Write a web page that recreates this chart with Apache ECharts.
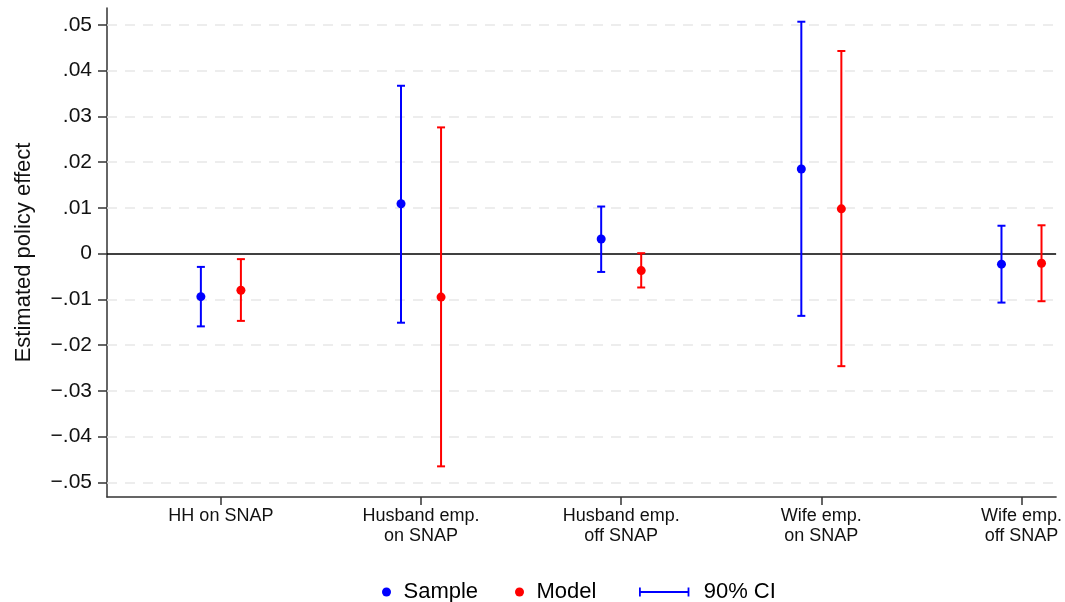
<!DOCTYPE html>
<html>
<head>
<meta charset="utf-8">
<script src="https://cdn.jsdelivr.net/npm/echarts@6/dist/echarts.min.js"></script>
<style>
  html, body { margin: 0; padding: 0; background: #fff; }
  #chart { width: 1065px; height: 602px; }
</style>
</head>
<body>
<div id="chart"></div>
<script>
// outcomes on the x axis
const categories = ['HH on SNAP', 'Husband emp.\non SNAP', 'Husband emp.\noff SNAP', 'Wife emp.\non SNAP', 'Wife emp.\noff SNAP']

// sample estimates with 90% CI
const sampleEst = [-0.0094, 0.0109, 0.0032, 0.0185, -0.0023]
const sampleLow = [-0.0159, -0.0151, -0.0040, -0.0136, -0.0107]
const sampleHigh = [-0.0029, 0.0367, 0.0103, 0.0507, 0.0061]

// model estimates with 90% CI
const modelEst = [-0.0080, -0.0095, -0.0037, 0.0098, -0.0021]
const modelLow = [-0.0147, -0.0465, -0.0074, -0.0246, -0.0104]
const modelHigh = [-0.0012, 0.0276, 0.0001, 0.0443, 0.0062]

const yTicks = [-0.05, -0.04, -0.03, -0.02, -0.01, 0, 0.01, 0.02, 0.03, 0.04, 0.05]

const BLUE = '#0000ff'
const RED = '#ff0000'
const FONT = '"Liberation Sans", Arial, sans-serif'
const sampleShift = -0.1
const modelShift = 0.1

const catPos = categories.map((c, i) => i + 1)

const samplePts = sampleEst.map((v, i) => [catPos[i] + sampleShift, v])
const modelPts = modelEst.map((v, i) => [catPos[i] + modelShift, v])
const ciData = []
sampleEst.forEach((v, i) => ciData.push([catPos[i] + sampleShift, sampleLow[i], sampleHigh[i], 0]))
modelEst.forEach((v, i) => ciData.push([catPos[i] + modelShift, modelLow[i], modelHigh[i], 1]))

function fmtY(v) {
  if (Math.abs(v) < 1e-9) return '0'
  const s = Math.abs(v).toFixed(2).replace(/^0/, '')
  return (v < 0 ? '\u2212' : '') + s
}

const gridLines = yTicks.filter(v => v !== 0).map(v => ({
  yAxis: v,
  lineStyle: { color: '#e8e8e8', width: 1.5, type: [10, 8] }
}))
gridLines.push({ yAxis: 0, lineStyle: { color: '#000', width: 1.5, type: 'solid' } })

const legendText = { fontFamily: FONT, fontSize: 22, color: '#000' }

const chart = echarts.init(document.getElementById('chart'))
chart.setOption({
  backgroundColor: '#fff',
  animation: false,
  grid: { left: 107, right: 8, top: 8, bottom: 105, containLabel: false },
  legend: [
    {
      data: ['Sample'], left: 377, top: 576, icon: 'circle',
      itemWidth: 24, itemHeight: 9, textStyle: legendText
    },
    {
      data: ['Model'], left: 510, top: 576, icon: 'circle',
      itemWidth: 24, itemHeight: 9, textStyle: legendText
    },
    {
      data: [{ name: '90% CI', icon: 'path://M0,0h2v10h-2z M0,4h56v2h-56z M54,0h2v10h-2z' }],
      left: 634, top: 576, itemWidth: 55, itemHeight: 9,
      textStyle: Object.assign({}, legendText, { padding: [0, 0, 0, 7] })
    }
  ],
  xAxis: {
    type: 'value',
    min: 0.431,
    max: 5.173,
    axisLine: { onZero: false, lineStyle: { color: '#333', width: 1.5 } },
    axisTick: { customValues: catPos, length: 8, lineStyle: { color: '#333', width: 1.5 } },
    axisLabel: {
      customValues: catPos,
      margin: 9,
      fontFamily: FONT,
      fontSize: 18,
      lineHeight: 20,
      color: '#111',
      formatter: v => categories[Math.round(v) - 1]
    },
    splitLine: { show: false }
  },
  yAxis: {
    type: 'value',
    min: -0.0532,
    max: 0.0537,
    name: 'Estimated policy effect',
    nameLocation: 'middle',
    nameGap: 72,
    nameTextStyle: { fontFamily: FONT, fontSize: 22, color: '#111' },
    axisLine: { show: true, lineStyle: { color: '#333', width: 1.5 } },
    axisTick: { customValues: yTicks, length: 9, lineStyle: { color: '#333', width: 1.5 } },
    axisLabel: {
      customValues: yTicks,
      margin: 15,
      fontFamily: FONT,
      fontSize: 21,
      color: '#111',
      formatter: fmtY
    },
    splitLine: { show: false }
  },
  series: [
    {
      name: '90% CI',
      type: 'custom',
      z: 2,
      itemStyle: { color: BLUE },
      data: ciData,
      renderItem: function (params, api) {
        const x = api.value(0)
        const lo = api.coord([x, api.value(1)])
        const hi = api.coord([x, api.value(2)])
        const col = api.value(3) === 0 ? BLUE : RED
        const style = { stroke: col, lineWidth: 2 }
        const hw = 4
        return {
          type: 'group',
          children: [
            { type: 'line', shape: { x1: lo[0], y1: lo[1], x2: hi[0], y2: hi[1] }, style: style },
            { type: 'line', shape: { x1: lo[0] - hw, y1: lo[1], x2: lo[0] + hw, y2: lo[1] }, style: style },
            { type: 'line', shape: { x1: hi[0] - hw, y1: hi[1], x2: hi[0] + hw, y2: hi[1] }, style: style }
          ]
        }
      },
      markLine: {
        silent: true,
        symbol: 'none',
        label: { show: false },
        z: 1,
        data: gridLines
      }
    },
    {
      name: 'Sample',
      type: 'scatter',
      z: 3,
      symbolSize: 9,
      itemStyle: { color: BLUE, opacity: 1 },
      data: samplePts
    },
    {
      name: 'Model',
      type: 'scatter',
      z: 3,
      symbolSize: 9,
      itemStyle: { color: RED, opacity: 1 },
      data: modelPts
    }
  ]
})
</script>
</body>
</html>
